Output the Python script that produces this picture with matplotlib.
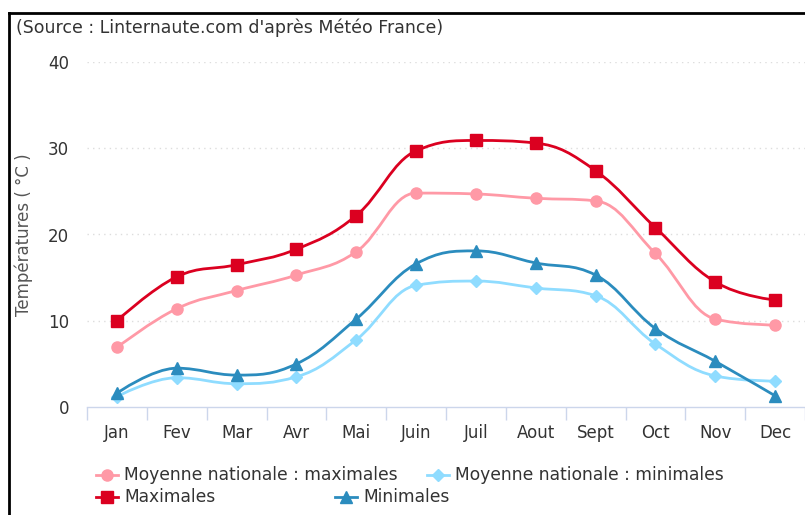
import numpy as np
import matplotlib
matplotlib.use("Agg")
import matplotlib.pyplot as plt
from matplotlib.path import Path
from matplotlib.patches import PathPatch
from matplotlib.lines import Line2D

plt.rcParams['font.family'] = ['DejaVu Sans']

mois = ["Jan", "Fev", "Mar", "Avr", "Mai", "Juin", "Juil", "Aout", "Sept", "Oct", "Nov", "Dec"]
moy_max = [6.9, 11.4, 13.5, 15.3, 18.0, 24.8, 24.7, 24.2, 23.9, 17.8, 10.2, 9.5]
moy_min = [1.2, 3.4, 2.7, 3.5, 7.8, 14.1, 14.6, 13.8, 12.9, 7.3, 3.6, 3.0]
maximales = [10.0, 15.1, 16.5, 18.3, 22.2, 29.7, 30.9, 30.6, 27.4, 20.8, 14.5, 12.4]
minimales = [1.6, 4.5, 3.7, 5.0, 10.2, 16.6, 18.1, 16.7, 15.3, 9.1, 5.3, 1.3]

c_moy_max = "#ff99a6"
c_moy_min = "#8fdcff"
c_max = "#db0020"
c_min = "#2b8cbe"


def spline_path(xs, ys, smoothing=1.5):
    # same kind of smoothing as highcharts "spline" series
    n = len(xs)
    denom = smoothing + 1
    lc = [(xs[i], ys[i]) for i in range(n)]
    rc = [(xs[i], ys[i]) for i in range(n)]
    for i in range(1, n - 1):
        x, y = xs[i], ys[i]
        lx, ly = xs[i - 1], ys[i - 1]
        nx, ny = xs[i + 1], ys[i + 1]
        lcx = (smoothing * x + lx) / denom
        lcy = (smoothing * y + ly) / denom
        rcx = (smoothing * x + nx) / denom
        rcy = (smoothing * y + ny) / denom
        if rcx != lcx:
            corr = ((rcy - lcy) * (rcx - x)) / (rcx - lcx) + y - rcy
            lcy += corr
            rcy += corr
        if lcy > ly and lcy > y:
            lcy = max(ly, y)
            rcy = 2 * y - lcy
        elif lcy < ly and lcy < y:
            lcy = min(ly, y)
            rcy = 2 * y - lcy
        if rcy > ny and rcy > y:
            rcy = max(ny, y)
            lcy = 2 * y - rcy
        elif rcy < ny and rcy < y:
            rcy = min(ny, y)
            lcy = 2 * y - rcy
        lc[i] = (lcx, lcy)
        rc[i] = (rcx, rcy)
    verts = [(xs[0], ys[0])]
    codes = [Path.MOVETO]
    for i in range(1, n):
        verts += [rc[i - 1], lc[i], (xs[i], ys[i])]
        codes += [Path.CURVE4] * 3
    return Path(verts, codes)


fig = plt.figure(figsize=(8.05, 5.15), dpi=100)
ax = fig.add_axes([87 / 805, (515 - 407) / 515, 718 / 805, (407 - 62) / 515])

x = np.arange(len(mois))
series = [
    (moy_max, c_moy_max, "o", 8, "Moyenne nationale : maximales"),
    (moy_min, c_moy_min, "D", 6, "Moyenne nationale : minimales"),
    (maximales, c_max, "s", 8, "Maximales"),
    (minimales, c_min, "^", 8.5, "Minimales"),
]
for vals, col, mk, ms, lab in series:
    ax.add_patch(PathPatch(spline_path(x, vals), fill=False, edgecolor=col, lw=2, zorder=3))
    ax.plot(x, vals, linestyle="none", marker=mk, ms=ms, color=col, mec=col, zorder=4, clip_on=False)

ax.set_xlim(-0.5, 11.5)
ax.set_ylim(0, 40)
ax.set_yticks([0, 10, 20, 30, 40])
ax.set_xticks(x)
ax.set_xticklabels(mois)
ax.set_xticks(np.arange(-0.5, 12, 1), minor=True)
ax.tick_params(axis="x", which="major", length=0, pad=12, labelsize=12, labelcolor="#333333")
ax.tick_params(axis="x", which="minor", length=9, width=1, color="#ccd6eb", direction="out")
ax.tick_params(axis="y", length=0, pad=13, labelsize=12, labelcolor="#333333")

for s in ["top", "right", "left"]:
    ax.spines[s].set_visible(False)
ax.spines["bottom"].set_color("#ccd6eb")
ax.spines["bottom"].set_linewidth(1)
for v in [10, 20, 30, 40]:
    ax.axhline(v, color="#dddddd", lw=1, ls=(0, (1, 3)), zorder=1)

ax.set_ylabel("Températures ( °C )", fontsize=12, color="#555555", labelpad=4)
ax.yaxis.set_label_coords(-54 / 718, 0.5)

fig.text(16 / 805, 1 - 28 / 515, "(Source : Linternaute.com d'après Météo France)",
         fontsize=12.5, color="#333333", va="center", ha="left")

# black frame on the left / top
fig.add_artist(Line2D([9 / 805, 9 / 805], [0, 1 - 13 / 515], color="black", lw=2))
fig.add_artist(Line2D([9 / 805, 1], [1 - 13 / 515, 1 - 13 / 515], color="black", lw=2))

# legend, laid out like the original
leg_pos = [(107, 475), (438, 475), (107, 497), (346, 497)]
for (vals, col, mk, ms, lab), (px, py) in zip(series, leg_pos):
    fy = 1 - py / 515
    fig.add_artist(Line2D([(px - 11) / 805, (px + 11) / 805], [fy, fy], color=col, lw=2))
    fig.add_artist(Line2D([px / 805], [fy], marker=mk, ms=ms, color=col, mec=col, linestyle="none"))
    fig.text((px + 17) / 805, fy, lab, fontsize=12.3, color="#333333", va="center", ha="left")

fig.savefig("out.png", dpi=100)
